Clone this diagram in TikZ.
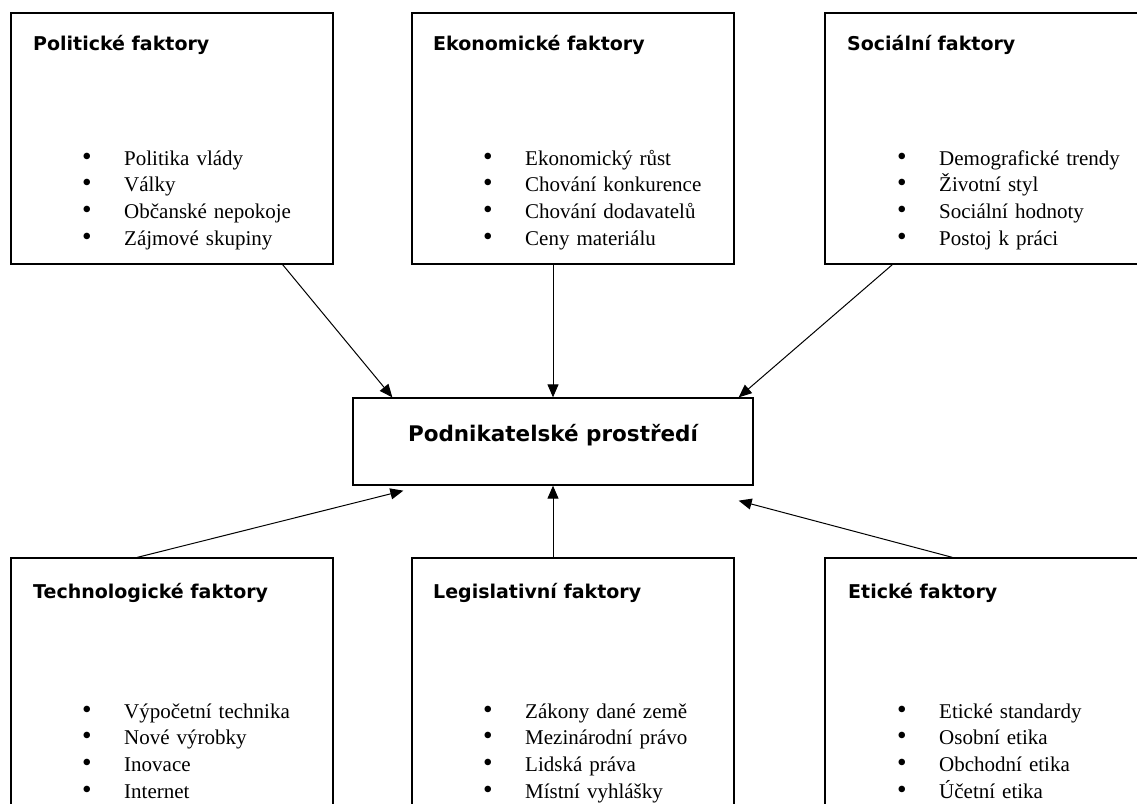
\documentclass[tikz,border=0pt]{standalone}
\usepackage{fontspec}
\setmainfont{Liberation Serif}
\newfontfamily\headfont{DejaVu Sans}
\usetikzlibrary{arrows.meta}
\usetikzlibrary{calc}
\tikzstyle{factorbox}=[draw,line width=1.3pt,minimum width=322pt,minimum height=251pt,inner sep=0pt]
\tikzstyle{centerbox}=[draw,line width=1.3pt,minimum width=400pt,minimum height=87pt,inner sep=0pt]
\tikzstyle{heading}=[font=\headfont\bfseries\fontsize{19}{21}\selectfont,inner sep=0pt]
\tikzstyle{itemlist}=[font=\fontsize{21}{26.7}\selectfont,text width=260pt,align=left,inner sep=0pt]
\tikzstyle{influence}=[-{Triangle[length=13pt,width=11pt]},line width=1pt]
\newcommand{\bul}{\makebox[42pt][l]{\scalebox{1.3}{\textbullet}}}

\begin{document}
\begin{tikzpicture}[x=1pt,y=-1pt]

  \useasboundingbox (0,0) rectangle (1137,803);
  \clip (0,0) rectangle (1137,803);

% boxes
  \foreach \pos/\name in {{(172,138.5)/pol}, {(573,138.5)/eko}, {(986,138.5)/soc}, {(172,683.5)/tech}, {(573,683.5)/leg}, {(986,683.5)/eti}}
      \node[factorbox] (\name) at \pos {};

  \node[centerbox] (env) at (553,441.5) {};
  \node[heading,font=\headfont\bfseries\fontsize{21.5}{24}\selectfont, anchor=base] (envlabel) at (553,441) {Podnikatelské prostředí};

% headings
  \node[heading, anchor=base west] (poltitle) at (33,50) {Politické faktory};
  \node[heading, anchor=base west] (ekotitle) at (433,50) {Ekonomické faktory};
  \node[heading, anchor=base west] (soctitle) at (847,50) {Sociální faktory};
  \node[heading, anchor=base west] (techtitle) at (33,598) {Technologické faktory};
  \node[heading, anchor=base west] (legtitle) at (433,598) {Legislativní faktory};
  \node[heading, anchor=base west] (etititle) at (848,598) {Etické faktory};

% lists
  \node[itemlist, anchor=base west] (pollist) at (82,165) {\bul Politika vlády\\ \bul Války\\ \bul Občanské nepokoje\\ \bul Zájmové skupiny};
  \node[itemlist, anchor=base west] (ekolist) at (483,165) {\bul Ekonomický růst\\ \bul Chování konkurence\\ \bul Chování dodavatelů\\ \bul Ceny materiálu};
  \node[itemlist, anchor=base west] (soclist) at (897,165) {\bul Demografické trendy\\ \bul Životní styl\\ \bul Sociální hodnoty\\ \bul Postoj k práci};
  \node[itemlist, anchor=base west] (techlist) at (82,718) {\bul Výpočetní technika\\ \bul Nové výrobky\\ \bul Inovace\\ \bul Internet};
  \node[itemlist, anchor=base west] (leglist) at (483,718) {\bul Zákony dané země\\ \bul Mezinárodní právo\\ \bul Lidská práva\\ \bul Místní vyhlášky};
  \node[itemlist, anchor=base west] (etilist) at (897,718) {\bul Etické standardy\\ \bul Osobní etika\\ \bul Obchodní etika\\ \bul Účetní etika};

% arrows into the centre
\draw[influence] ($(pol.south east)+(-51,0)$) -- ($(env.north west)+(40,0)$);
\draw[influence] (eko.south -| env.north) -- (env.north);
\draw[influence] ($(soc.south west)+(68,0)$) -- ($(env.north east)+(-15,0)$);
\draw[influence] ($(tech.north west)+(127,0)$) -- ($(env.south west)+(51,5)$);
\draw[influence] (leg.north -| env.south) -- (env.south);
\draw[influence] ($(eti.north west)+(128,0)$) -- ($(env.south east)+(-15,15)$);

\end{tikzpicture}
\end{document}
